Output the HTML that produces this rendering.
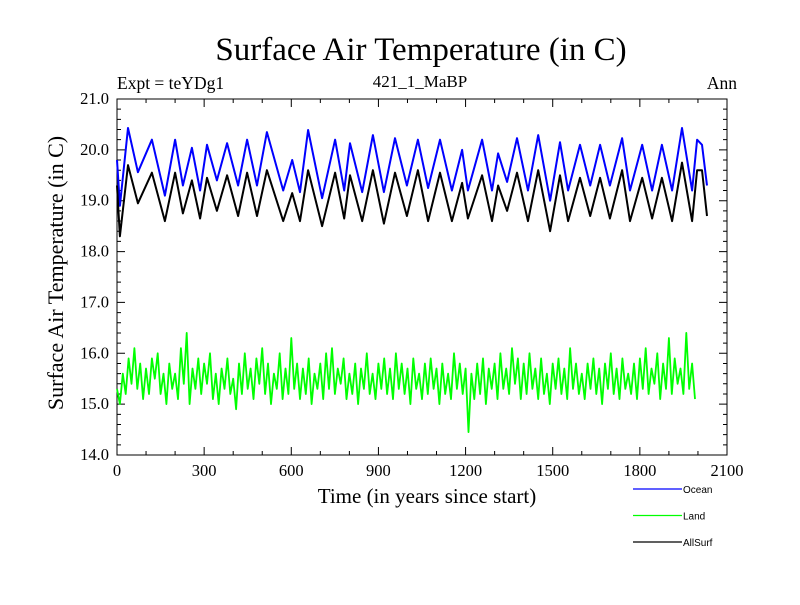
<!DOCTYPE html>
<html><head><meta charset="utf-8"><style>
body{margin:0;background:#fff}
svg text{font-family:"Liberation Serif",serif}
</style></head><body>
<svg id="chart" width="800" height="600">
<rect width="800" height="600" fill="#fff"/>
<text x="421" y="60" font-size="33" text-anchor="middle">Surface Air Temperature (in C)</text>
<text x="117" y="89" font-size="17.5">Expt = teYDg1</text>
<text x="420" y="87" font-size="17" text-anchor="middle">421_1_MaBP</text>
<text x="737" y="89" font-size="17.5" text-anchor="end">Ann</text>
<text transform="translate(63,273) rotate(-90)" font-size="22" text-anchor="middle">Surface Air Temperature (in C)</text>
<text x="427" y="503" font-size="21" text-anchor="middle">Time (in years since start)</text>
<g id="axes"></g>
<g id="series"></g>
<g id="legend"></g>
</svg>
<script>
const xTicks=[0,300,600,900,1200,1500,1800,2100];
const yTicks=[14.0,15.0,16.0,17.0,18.0,19.0,20.0,21.0];
const oceanYears=[0,10,38,72,120,165,200,227,258,286,310,344,379,417,448,482,516,572,603,630,658,706,751,782,802,844,881,919,957,998,1036,1071,1112,1153,1188,1208,1257,1291,1312,1343,1377,1415,1450,1491,1525,1553,1594,1629,1663,1697,1739,1766,1808,1842,1876,1911,1945,1980,1997,2014,2031];
const oceanVals=[19.8,18.9,20.43,19.56,20.2,19.1,20.2,19.3,20.04,19.2,20.1,19.4,20.13,19.3,20.2,19.3,20.35,19.2,19.8,19.17,20.39,19.05,20.2,19.2,20.13,19.17,20.29,19.17,20.23,19.3,20.2,19.25,20.2,19.2,20.0,19.2,20.2,19.2,19.93,19.37,20.23,19.2,20.29,19.0,20.15,19.2,20.1,19.3,20.1,19.3,20.23,19.2,20.1,19.2,20.1,19.2,20.43,19.2,20.2,20.1,19.3];
const allVals=[19.3,18.3,19.7,18.95,19.55,18.6,19.55,18.75,19.4,18.65,19.45,18.8,19.5,18.7,19.55,18.7,19.6,18.6,19.15,18.6,19.6,18.5,19.55,18.65,19.5,18.6,19.6,18.55,19.55,18.7,19.6,18.6,19.55,18.6,19.35,18.65,19.5,18.6,19.3,18.8,19.55,18.6,19.6,18.4,19.5,18.6,19.45,18.7,19.45,18.65,19.6,18.6,19.45,18.65,19.45,18.6,19.75,18.6,19.6,19.6,18.7];
const landStep=10;
const landVals=[15.3,15.0,15.6,15.2,15.9,15.4,16.1,15.3,15.8,15.1,
15.7,15.2,15.9,15.5,16.0,15.2,15.6,15.0,15.8,15.3,
15.6,15.1,16.1,15.4,16.4,15.0,15.7,15.3,15.9,15.2,
15.8,15.4,16.0,15.1,15.6,15.0,15.7,15.3,15.9,15.2,
15.5,14.9,15.8,15.2,16.0,15.3,15.7,15.1,15.9,15.4,
16.1,15.2,15.8,15.0,15.6,15.3,16.0,15.1,15.7,15.2,
16.3,15.3,15.8,15.1,15.7,15.2,15.9,15.0,15.6,15.3,
15.8,15.1,16.0,15.3,16.1,15.2,15.7,15.4,15.9,15.1,
15.6,15.2,15.8,15.0,15.7,15.3,16.0,15.2,15.6,15.1,
15.8,15.3,15.9,15.2,15.7,15.1,16.0,15.3,15.8,15.2,
15.7,15.0,15.9,15.3,15.6,15.1,15.8,15.2,15.9,15.3,
15.7,15.0,15.8,15.2,15.6,15.1,16.0,15.3,15.8,15.2,
15.7,14.45,15.6,15.1,15.8,15.2,15.9,15.0,15.7,15.3,
15.8,15.1,16.0,15.3,15.7,15.2,16.1,15.4,15.9,15.1,
15.8,15.2,16.0,15.3,15.7,15.1,15.9,15.2,15.6,15.0,
15.8,15.3,15.9,15.2,15.7,15.1,16.1,15.3,15.8,15.2,
15.6,15.1,15.8,15.3,15.9,15.2,15.7,15.0,15.8,15.3,
16.0,15.2,15.7,15.1,15.9,15.3,15.6,15.2,15.8,15.1,
15.9,15.3,16.1,15.2,15.7,15.4,16.0,15.1,15.8,15.3,
16.3,15.2,15.9,15.4,15.7,15.2,16.4,15.3,15.8,15.1];
const legendNames=["Ocean","Land","AllSurf"];
const legendColors=["#0000ff","#00ff00","#000000"];

const NS="http://www.w3.org/2000/svg";
const L=117,R=727,T=99,B=455;
const X=v=>L+(v-0)/(2100-0)*(R-L);
const Y=v=>B-(v-14)/(21-14)*(B-T);
function mk(tag,attrs,parent){const e=document.createElementNS(NS,tag);for(const k in attrs)e.setAttribute(k,attrs[k]);parent.appendChild(e);return e;}
const axes=document.getElementById('axes');
const frame=mk('rect',{x:L,y:T,width:R-L,height:B-T,fill:'none',stroke:'#000','stroke-width':1},axes);


let d='';
for(let v=0;v<=2100;v+=100){const x=X(v);const len=(v%300===0)?8:4;d+=`M${x},${B}v${-len}M${x},${T}v${len}`;}
for(let v=14;v<=21.001;v+=0.2){const y=Y(v);const len=(Math.abs(v-Math.round(v))<0.01)?8:4;d+=`M${L},${y}h${len}M${R},${y}h${-len}`;}
const tk=mk('path',{d:d,stroke:'#000','stroke-width':1,fill:'none'},axes);


xTicks.forEach(v=>{const t=mk('text',{x:X(v),y:B+21,'font-size':16.5,'text-anchor':'middle'},axes);t.textContent=v;

});
yTicks.forEach(v=>{const t=mk('text',{x:L-8,y:Y(v)+5,'font-size':16.5,'text-anchor':'end'},axes);t.textContent=v.toFixed(1);

});
const ser=document.getElementById('series');
function line(xs,ys,color,name,w){const p=mk('path',{d:xs.map((x,i)=>(i?'L':'M')+X(x).toFixed(1)+','+Y(ys[i]).toFixed(1)).join(''),stroke:color,'stroke-width':w,fill:'none','stroke-linejoin':'round'},ser);

}
line(landVals.map((v,i)=>i*landStep),landVals,'#00ff00','land-line',1.8);
line(oceanYears,oceanVals,'#0000ff','ocean-line',2);
line(oceanYears,allVals,'#000000','allsurf-line',2);
const lg=document.getElementById('legend');
legendNames.forEach((n,i)=>{const y=489+i*26.5;
const ln=mk('line',{x1:633,x2:682,y1:y,y2:y,stroke:legendColors[i],'stroke-width':1.3},lg);


const t=mk('text',{x:683,y:y+4,'font-size':10,style:'font-family:"Liberation Sans",sans-serif'},lg);t.textContent=n;

});
</script>
</body></html>
